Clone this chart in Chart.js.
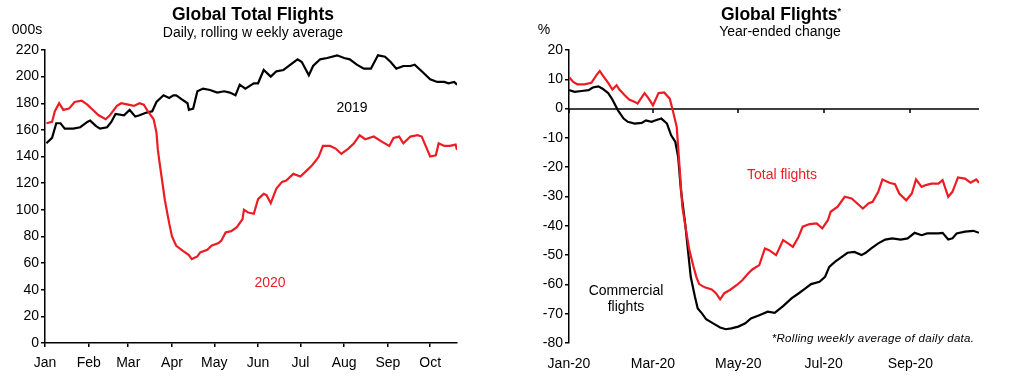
<!DOCTYPE html>
<html><head><meta charset="utf-8">
<script src="https://cdn.jsdelivr.net/npm/chart.js@4/dist/chart.umd.min.js"></script>
<style>
html,body{margin:0;padding:0;background:#fff;}
#wrap{position:relative;width:1010px;height:383px;overflow:hidden;font-family:"Liberation Sans",Arial,sans-serif;color:#000;background:#fff;}
canvas{position:absolute;top:0;}
.t{position:absolute;white-space:nowrap;line-height:1;transform:translate(-50%,-50%);}
</style></head><body>
<div id="wrap">
<canvas id="c1" width="505" height="383" style="left:0"></canvas>
<canvas id="c2" width="505" height="383" style="left:505px"></canvas>
<div class="t" style="left:253px;top:15px;font-weight:bold;font-size:17.5px">Global Total Flights</div>
<div class="t" style="left:253px;top:32px;font-size:14px">Daily, rolling w eekly average</div>
<div class="t" style="left:27px;top:29px;font-size:14px">000s</div>
<div class="t" style="left:352px;top:107px;font-size:14px">2019</div>
<div class="t" style="left:270px;top:282px;font-size:14px;color:#ed1c24">2020</div>
<div class="t" style="left:781px;top:15px;font-weight:bold;font-size:17.5px">Global Flights<sup style="font-size:9px;vertical-align:6px">*</sup></div>
<div class="t" style="left:780px;top:31px;font-size:14px">Year-ended change</div>
<div class="t" style="left:544px;top:29px;font-size:14px">%</div>
<div class="t" style="left:782px;top:174px;font-size:14px;color:#ed1c24">Total flights</div>
<div class="t" style="left:626px;top:298px;font-size:14px;line-height:16px;text-align:center">Commercial<br>flights</div>
<div class="t" style="left:873px;top:339px;font-size:11.5px;font-style:italic;letter-spacing:0.3px">*Rolling weekly average of daily data.</div>
</div>
<script>
// ---- Left chart: Global Total Flights (000s) ----
const leftTickDays = [0,31,59,90,120,151,181,212,243,273];
const leftTickLabels = ['Jan','Feb','Mar','Apr','May','Jun','Jul','Aug','Sep','Oct'];

const days2019 = [1,5,8,11,14,20,25,30,32,36,39,44,47,50,56,60,64,67,72,76,79,84,88,91,93,97,101,102,105,108,112,117,122,127,131,135,138,142,148,151,155,160,164,169,174,179,182,187,190,195,200,207,212,216,221,226,231,233,236,241,245,249,254,259,262,267,273,278,283,286,290,292];
const flights2019 = [150,154,165,165,161,161,162,166,167,163,161,162,166,172,171,175,170,171,173,174,181,186,184,186,186,183,180,175,176,189,191,190,188,189,188,186,194,191,195,195,205,200,204,205,209,213,211,201,208,213,214,216,214,213,209,206,206,210,216,215,211,206,208,208,209,204,198,196,196,195,196,194];

const days2020 = [1,5,7,10,13,17,21,26,30,34,38,43,46,51,54,59,63,67,70,73,77,79,80,81,83,85,88,90,93,98,102,104,108,110,115,118,123,125,128,132,136,140,141,144,148,151,155,157,160,164,168,171,176,181,186,189,192,194,197,202,206,210,215,219,223,227,233,239,244,247,251,254,259,264,267,271,273,277,279,283,287,291,292];
const flights2020 = [165,166,174,180,175,176,181,182,179,175,171,168,171,178,180,179,178,180,179,174,168,158,145,137,122,107,90,80,73,69,66,63,65,68,70,73,75,77,83,84,87,93,100,98,97,108,112,111,105,116,121,122,127,125,130,133,137,140,148,148,146,142,146,150,156,153,155,151,148,154,155,150,155,156,155,145,140,141,150,148,148,149,145];

// ---- Right chart: Global Flights, year-ended change (%) ----
const rightTickDays = [0,60,121,182,244];
const rightTickLabels = ['Jan-20','Mar-20','May-20','Jul-20','Sep-20'];

const daysTotal = [0,3,6,11,16,20,22,24,28,31,34,36,40,43,47,49,54,57,60,64,68,72,74,77,79,81,84,86,89,91,93,97,102,105,108,111,115,120,124,128,131,136,140,143,148,153,156,160,164,167,172,177,181,185,187,192,197,202,206,210,214,217,221,224,229,233,236,241,245,248,252,255,259,264,267,271,274,278,283,287,291,293];
const totalFlights = [10.8,9.1,8.3,8.3,8.8,11.7,12.8,11.4,8.8,6.5,8,6.5,4.5,3.1,2.3,1.7,5.3,3.4,1.1,5.3,5.5,3.4,-0.3,-6.3,-19.9,-33.5,-42.6,-48.3,-54,-57.4,-59.9,-61,-61.7,-63,-65.1,-63,-61.9,-60.2,-58.5,-56.3,-54.9,-53.4,-47.7,-48.3,-50,-44.9,-45.8,-47.2,-43.8,-40.3,-39.4,-39.2,-40.9,-38.1,-35.2,-33.5,-30.1,-30.7,-32.4,-34.1,-32.4,-31.8,-28.4,-24.2,-25.3,-25.8,-29,-31.3,-29,-24.2,-26.7,-26.1,-25.6,-25.6,-24.4,-30.1,-28.4,-23.5,-23.9,-25.3,-24.2,-25.3];

const daysComm = [0,4,9,14,17,21,24,28,31,35,39,42,47,52,55,59,62,66,70,73,76,78,80,83,85,87,90,92,95,98,103,108,112,116,121,126,130,136,142,147,153,159,164,168,173,179,183,186,190,195,199,204,209,212,216,221,226,231,237,242,247,252,256,264,267,271,274,277,283,289,293];
const commercialFlights = [6.3,5.7,6,6.3,7.2,7.6,6.8,5.3,3.1,-0.6,-3.4,-4.5,-5.1,-4.9,-4,-4.5,-4,-3.4,-5.1,-9.1,-11.4,-16.5,-27.8,-39.2,-48.3,-57.4,-64.2,-68.2,-69.9,-71.9,-73.3,-74.7,-75.3,-75,-74.4,-73.3,-71.6,-70.5,-69.3,-69.7,-67.4,-64.8,-63.1,-61.7,-59.9,-59.1,-57.4,-54,-52.3,-50.6,-49.2,-48.9,-50,-49.2,-47.7,-46,-44.7,-44.3,-44.7,-44.3,-42.4,-43.2,-42.6,-42.6,-42.4,-44.7,-44.3,-42.6,-42,-41.7,-42.4];

const RED = '#ed1c24';
const pts = (xs, ys) => xs.map((d, i) => ({x: d, y: ys[i]}));

Chart.defaults.font.family = '"Liberation Sans", Arial, sans-serif';
Chart.defaults.font.size = 14;
Chart.defaults.color = '#000';

const lineDs = (label, data, color, order) => ({
  label, data, borderColor: color, backgroundColor: color, borderWidth: 2.2,
  pointRadius: 0, tension: 0, fill: false, order
});

const common = {
  responsive: false, animation: false, devicePixelRatio: 1,
  plugins: {legend: {display: false}, tooltip: {enabled: false}}
};

new Chart(document.getElementById('c1'), {
  type: 'line',
  data: {datasets: [
    lineDs('2020', pts(days2020, flights2020), RED, 0),
    lineDs('2019', pts(days2019, flights2019), '#000', 1)
  ]},
  options: Object.assign({}, common, {
    layout: {padding: {left: 0, right: 48, top: 50, bottom: 0}},
    scales: {
      x: {
        type: 'linear', min: 0, max: 292,
        afterBuildTicks: s => { s.ticks = leftTickDays.map(v => ({value: v})); },
        afterFit: s => { s.height = 40; },
        ticks: {autoSkip: false, maxRotation: 0, padding: 8, callback: (v, i) => leftTickLabels[i]},
        grid: {drawOnChartArea: false, drawTicks: true, tickLength: 4, color: '#000', lineWidth: 1.5},
        border: {display: true, color: '#000', width: 1.5}
      },
      y: {
        min: 0, max: 220,
        afterFit: s => { s.width = 45; },
        ticks: {stepSize: 20, padding: 2},
        grid: {drawOnChartArea: false, drawTicks: true, tickLength: 4, color: '#000', lineWidth: 1.5},
        border: {display: true, color: '#000', width: 1.5}
      }
    }
  })
});

const zeroLine = {
  id: 'zeroLine',
  beforeDatasetsDraw(chart) {
    const {ctx, chartArea: a, scales: {x, y}} = chart;
    const y0 = Math.round(y.getPixelForValue(0));
    ctx.save();
    ctx.strokeStyle = '#000';
    ctx.lineWidth = 1.5;
    ctx.beginPath();
    ctx.moveTo(a.left, y0); ctx.lineTo(a.right, y0);
    x.ticks.forEach(t => {
      const px = Math.round(x.getPixelForValue(t.value));
      ctx.moveTo(px, y0); ctx.lineTo(px, y0 + 4);
    });
    ctx.stroke();
    ctx.restore();
  }
};

new Chart(document.getElementById('c2'), {
  type: 'line',
  data: {datasets: [
    lineDs('Total flights', pts(daysTotal, totalFlights), RED, 0),
    lineDs('Commercial flights', pts(daysComm, commercialFlights), '#000', 1)
  ]},
  plugins: [zeroLine],
  options: Object.assign({}, common, {
    layout: {padding: {left: 0, right: 31, top: 50, bottom: 0}},
    scales: {
      x: {
        type: 'linear', min: 0, max: 293,
        afterBuildTicks: s => { s.ticks = rightTickDays.map(v => ({value: v})); },
        afterFit: s => { s.height = 40; },
        ticks: {autoSkip: false, maxRotation: 0, padding: 13, callback: (v, i) => rightTickLabels[i]},
        grid: {display: false, drawTicks: false},
        border: {display: false}
      },
      y: {
        min: -80, max: 20,
        afterFit: s => { s.width = 64; },
        ticks: {stepSize: 10, padding: 2},
        grid: {drawOnChartArea: false, drawTicks: true, tickLength: 4, color: '#000', lineWidth: 1.5},
        border: {display: true, color: '#000', width: 1.5}
      }
    }
  })
});
</script>
</body></html>
